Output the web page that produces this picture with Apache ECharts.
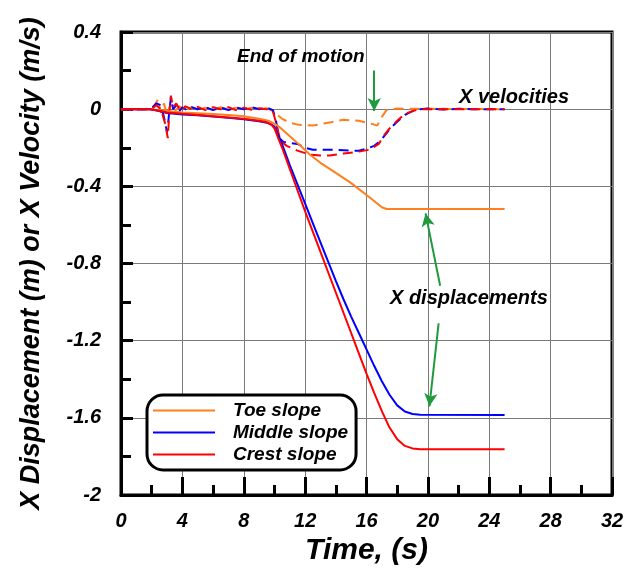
<!DOCTYPE html>
<html>
<head>
<meta charset="utf-8">
<script src="https://cdn.jsdelivr.net/npm/echarts@6/dist/echarts.min.js"></script>
<style>
  html, body { margin: 0; padding: 0; background: #fff; }
  #main { width: 637px; height: 571px; }
</style>
</head>
<body>
<div id="main"></div>
<script>
  // 数据: [时间 s, 数值]
  var toeDisp = [[0,0],[1.9,0],[2.5,-0.006],[3,-0.01],[4,-0.017],[5,-0.021],[6,-0.025],[7,-0.03],[8,-0.037],[9,-0.05],
    [9.6,-0.06],[10,-0.075],[10.4,-0.097],[11,-0.14],[11.7,-0.19],[12.3,-0.235],[13,-0.278],[14,-0.33],[15,-0.383],
    [16,-0.445],[16.5,-0.476],[17,-0.508],[17.3,-0.517],[18,-0.517],[25,-0.517]];
  var midDisp = [[0,0],[1.9,0],[2.5,-0.01],[3,-0.02],[4,-0.027],[5,-0.032],[6,-0.038],[7,-0.045],[8,-0.052],[9,-0.062],
    [9.5,-0.07],[9.8,-0.08],[10,-0.09],[10.4,-0.16],[11,-0.29],[11.5,-0.39],[12,-0.49],[12.5,-0.59],[13,-0.69],
    [13.5,-0.79],[14,-0.89],[14.5,-0.985],[15,-1.075],[15.5,-1.16],[16,-1.245],[16.5,-1.33],[17,-1.41],[17.5,-1.48],
    [18,-1.535],[18.5,-1.567],[19,-1.58],[19.5,-1.584],[25,-1.585]];
  var crestDisp = [[0,0],[1.9,0],[2.5,-0.008],[3,-0.017],[4,-0.024],[5,-0.03],[6,-0.036],[7,-0.043],[8,-0.05],[9,-0.06],
    [9.5,-0.068],[9.8,-0.08],[10,-0.1],[10.3,-0.16],[10.5,-0.2],[11,-0.31],[11.5,-0.42],[12,-0.53],[12.5,-0.635],
    [13,-0.74],[13.5,-0.845],[14,-0.95],[14.5,-1.055],[15,-1.16],[15.5,-1.265],[16,-1.37],[16.5,-1.47],[17,-1.565],
    [17.5,-1.65],[18,-1.71],[18.5,-1.745],[19,-1.758],[19.5,-1.762],[25,-1.763]];

  var toeVel = [[0,0],[2,0],[2.2,0.02],[2.4,0.05],[2.6,-0.02],[2.8,0.03],[3,-0.03],[3.2,0.02],[3.5,-0.01],[3.8,0.015],
    [4.2,-0.005],[4.6,0.01],[5,-0.005],[5.5,0.008],[6,-0.003],[6.5,0.01],[7,0],[7.5,0.008],[8,-0.002],[8.5,0.008],
    [9,0],[9.5,0.005],[9.9,-0.01],[10.5,-0.05],[11,-0.07],[11.5,-0.08],[12.5,-0.085],[13.5,-0.07],[14.5,-0.055],
    [15.5,-0.06],[16.3,-0.075],[16.7,-0.085],[17,-0.04],[17.3,-0.005],[17.6,0],[18,0.003],[25,0]];
  var midVel = [[0,0],[1.5,0],[2,0.005],[2.3,0.03],[2.6,0.02],[2.8,-0.04],[3,-0.12],[3.1,-0.05],[3.25,0.06],[3.4,0],
    [3.6,0.02],[3.8,-0.01],[4,0.01],[4.3,-0.005],[4.6,0.01],[5,0],[5.5,0.01],[6,-0.005],[6.5,0.008],[7,-0.005],
    [7.5,0.008],[8,0],[8.5,0.01],[9,0],[9.5,0.008],[9.9,-0.005],[10.1,-0.06],[10.3,-0.15],[10.6,-0.17],[11,-0.175],
    [11.5,-0.18],[12,-0.2],[12.5,-0.21],[13,-0.21],[14,-0.21],[15,-0.215],[15.5,-0.215],[16,-0.205],[16.5,-0.19],
    [16.9,-0.165],[17.3,-0.125],[17.6,-0.095],[18,-0.065],[18.5,-0.03],[19,-0.01],[19.5,0],[20,0.003],[21,-0.002],
    [22,0.002],[23,0],[25,0]];
  var crestVel = [[0,0],[2,0],[2.3,0.02],[2.6,0],[2.9,-0.08],[3.05,-0.15],[3.15,-0.02],[3.25,0.07],[3.4,0.01],[3.6,0.03],
    [3.9,-0.01],[4.2,0.015],[4.6,0],[5,0.012],[5.5,-0.005],[6,0.01],[6.5,0],[7,0.01],[7.5,-0.005],[8,0.008],
    [8.5,-0.003],[9,0.005],[9.5,0],[9.9,-0.01],[10.1,-0.07],[10.4,-0.165],[10.8,-0.19],[11.5,-0.215],[12.3,-0.235],
    [13,-0.24],[13.6,-0.24],[14.5,-0.23],[15.5,-0.22],[16.2,-0.21],[16.8,-0.18],[17.1,-0.14],[17.5,-0.1],[18,-0.06],
    [18.5,-0.025],[19,-0.01],[19.5,0],[20,0],[25,0]];

  var legendNames = ['Toe slope', 'Middle slope', 'Crest slope'];
  var colors = ['#ff7f1e', '#0000ff', '#ff0000'];
  var green = '#1f9a3c';
  var font = '"Liberation Sans", Arial, sans-serif';

  var myChart = echarts.init(document.getElementById('main'));

  function solid(name, data, color) {
    return {
      name: name, type: 'line', data: data, symbol: 'none',
      lineStyle: { color: color, width: 2 }, itemStyle: { color: color }, z: 3
    };
  }
  function dashed(name, data, color) {
    return {
      name: name, type: 'line', data: data, symbol: 'none',
      lineStyle: { color: color, width: 2, type: [10, 6] }, itemStyle: { color: color }, z: 2
    };
  }

  // 绿色箭头
  var arrowLine = {
    symbol: ['none', 'arrow'], symbolSize: [10, 13], silent: true,
    label: { show: false },
    lineStyle: { color: green, width: 2, type: 'solid' },
    data: [
      [{ coord: [16.5, 0.2] }, { coord: [16.5, -0.01] }],
      [{ coord: [20.8, -0.915] }, { coord: [19.85, -0.54] }],
      [{ coord: [20.7, -1.11] }, { coord: [20.1, -1.54] }]
    ]
  };

  var series = [
    dashed('Toe velocity', toeVel, colors[0]),
    dashed('Middle velocity', midVel, colors[1]),
    dashed('Crest velocity', crestVel, colors[2]),
    solid(legendNames[0], toeDisp, colors[0]),
    solid(legendNames[1], midDisp, colors[1]),
    solid(legendNames[2], crestDisp, colors[2])
  ];
  series[3].markLine = arrowLine;

  var option = {
    animation: false,
    grid: {
      left: 121, right: 25, top: 32, bottom: 74,
      show: true, borderColor: '#000', borderWidth: 3, backgroundColor: '#fff'
    },
    legend: {
      data: legendNames,
      orient: 'vertical',
      left: 147, top: 395,
      padding: [6, 8, 6, 6],
      itemGap: 3,
      icon: 'rect',
      itemWidth: 62, itemHeight: 2,
      borderColor: '#000', borderWidth: 3, borderRadius: 16,
      backgroundColor: '#fff',
      textStyle: { fontFamily: font, fontSize: 19, fontStyle: 'italic', fontWeight: 'bold', color: '#000',
        lineHeight: 19, padding: [0, 0, 0, 13] }
    },
    xAxis: {
      type: 'value', min: 0, max: 32, interval: 4,
      name: 'Time, (s)', nameLocation: 'middle', nameGap: 37,
      nameTextStyle: { fontFamily: font, fontSize: 30, fontStyle: 'italic', fontWeight: 'bold', color: '#000' },
      axisLine: { onZero: false, lineStyle: { color: '#000', width: 3 } },
      axisTick: { inside: true, length: 18, lineStyle: { color: '#000', width: 3 } },
      minorTick: { show: true, splitNumber: 2, length: 10, lineStyle: { color: '#000', width: 3 } },
      splitLine: { show: true, lineStyle: { color: '#7a7a7a', width: 1 } },
      axisLabel: { margin: 16, fontFamily: font, fontSize: 20, fontStyle: 'italic', fontWeight: 'bold', color: '#000' }
    },
    yAxis: {
      type: 'value', min: -2, max: 0.4, interval: 0.4,
      name: 'X Displacement (m) or X Velocity (m/s)', nameLocation: 'middle', nameGap: 76,
      nameTextStyle: { fontFamily: font, fontSize: 27, fontStyle: 'italic', fontWeight: 'bold', color: '#000' },
      axisLine: { onZero: false, lineStyle: { color: '#000', width: 3 } },
      axisTick: { inside: true, length: 12, lineStyle: { color: '#000', width: 3 } },
      minorTick: { show: true, splitNumber: 2, length: 10, lineStyle: { color: '#000', width: 3 } },
      splitLine: { show: true, lineStyle: { color: '#7a7a7a', width: 1 } },
      axisLabel: { margin: 20, fontFamily: font, fontSize: 20, fontStyle: 'italic', fontWeight: 'bold', color: '#000' }
    },
    graphic: [
      { type: 'text', left: 237, top: 47, z: 10,
        style: { text: 'End of motion', fill: '#000', font: 'italic bold 19px ' + font } },
      { type: 'text', left: 459, top: 87, z: 10,
        style: { text: 'X velocities', fill: '#000', font: 'italic bold 20px ' + font } },
      { type: 'text', left: 390, top: 288, z: 10,
        style: { text: 'X displacements', fill: '#000', font: 'italic bold 20px ' + font } }
    ],
    series: series
  };
  myChart.setOption(option);
</script>
</body>
</html>
